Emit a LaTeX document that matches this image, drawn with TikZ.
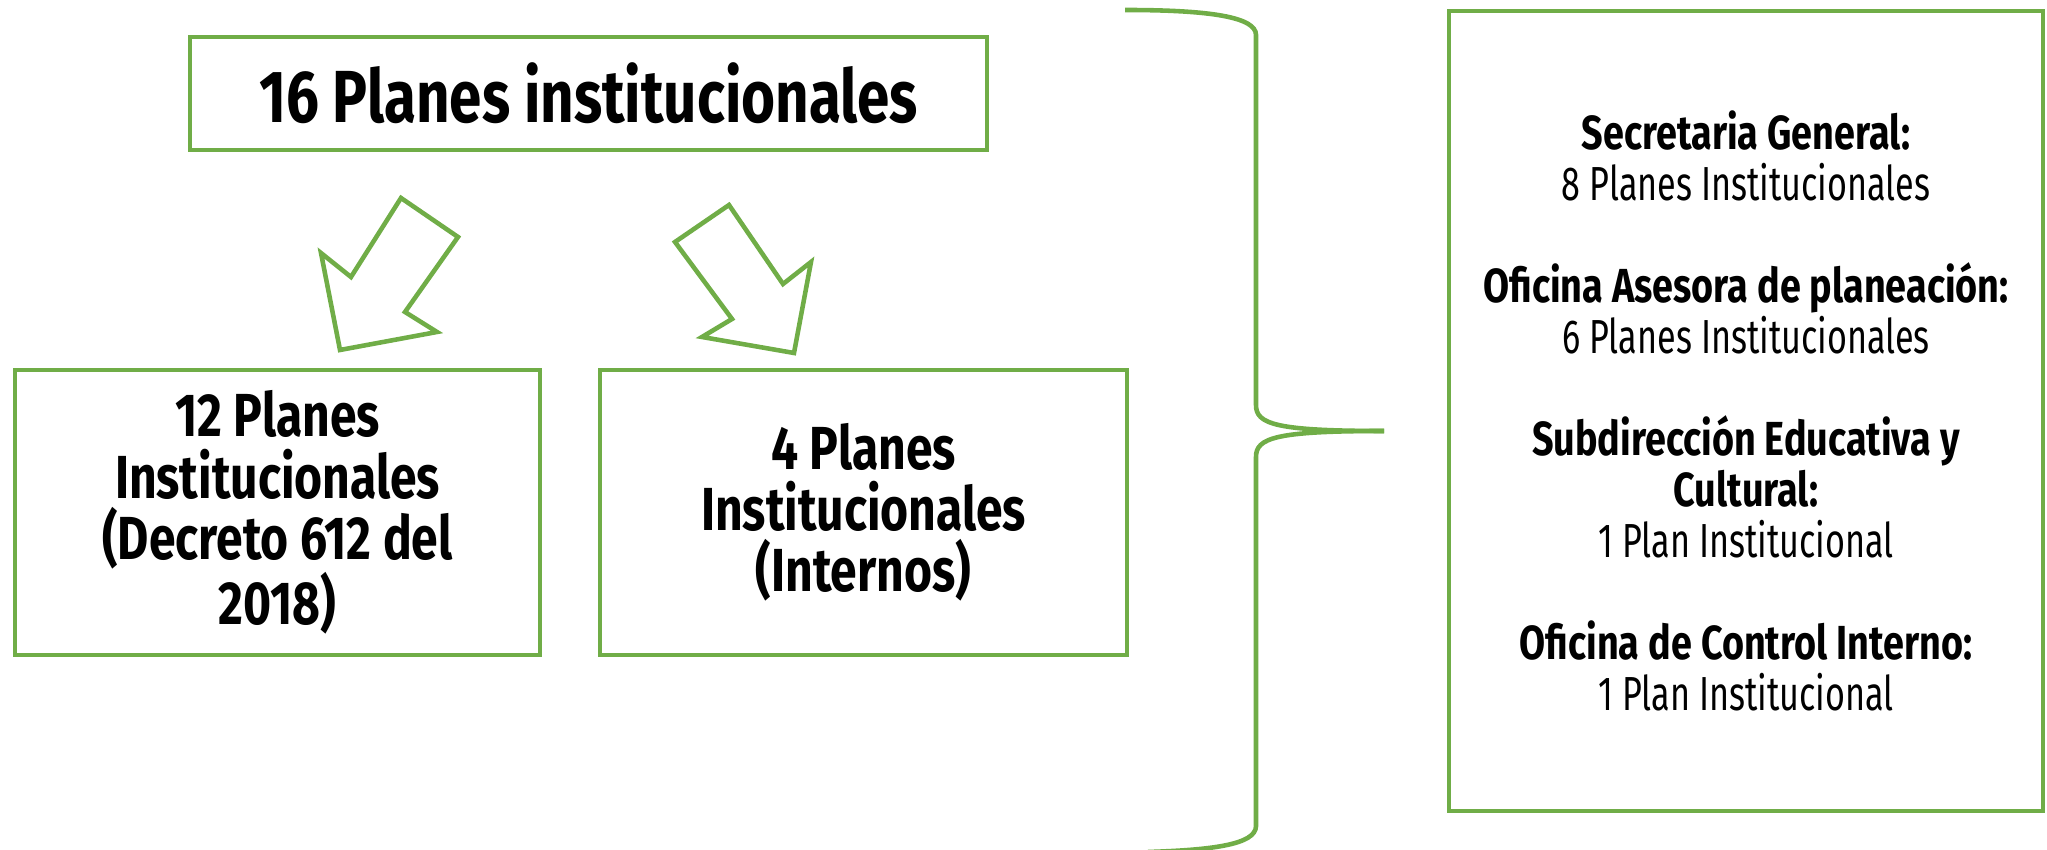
\documentclass[tikz,border=0pt]{standalone}
\usepackage{fontspec}
\setmainfont{Fira Sans}[FakeStretch=0.715, BoldFeatures={FakeStretch=0.79}]
\definecolor{planverde}{HTML}{70AD47}
\usepackage{tikz}
\usetikzlibrary{positioning, calc}

\begin{document}
\begin{tikzpicture}[line join = miter]
\useasboundingbox (0,0) rectangle (20.47,-8.5);
\tikzset{
	planbox/.style = {draw = planverde, line width = 1.3pt, inner sep = 0pt, align = center},
	flecha/.style = {draw = planverde, line width = 1.3pt}
}
% total
\node[planbox, minimum width = 7.97cm, minimum height = 1.13cm, font = \bfseries\fontsize{21}{22}\selectfont] (total) at (5.885,-0.935) {16 Planes institucionales};

% arrows
\draw[flecha] (4.01,-1.98) -- (4.58,-2.37) -- (4.05,-3.12) -- (4.37,-3.32) -- (3.40,-3.50) -- (3.21,-2.53) -- (3.51,-2.77) -- cycle;
\draw[flecha] (7.29,-2.05) -- (6.75,-2.42) -- (7.32,-3.19) -- (7.02,-3.37) -- (7.94,-3.53) -- (8.11,-2.62) -- (7.83,-2.84) -- cycle;

% 12 / 4
\node[planbox, minimum width = 5.25cm, minimum height = 2.85cm, font = \bfseries\fontsize{17.3}{17.4}\selectfont] (decreto) at (2.775,-5.125) {12 Planes\\Institucionales\\(Decreto 612 del\\2018)};
\node[planbox, minimum width = 5.27cm, minimum height = 2.85cm, font = \bfseries\fontsize{17.3}{17.4}\selectfont] (internos) at (8.635,-5.125) {4 Planes\\Institucionales\\(Internos)};

% brace
\coordinate (punta) at (13.84,-4.31);
\draw[flecha] (11.25,-0.10) .. controls (12.1,-0.10) and (12.56,-0.17) .. (12.56,-0.35) -- (12.56,-4.05) .. controls (12.56,-4.24) and (12.75,-4.31) .. (punta);
\draw[flecha] (punta) .. controls (12.75,-4.31) and (12.56,-4.38) .. (12.56,-4.57) -- (12.56,-8.26) .. controls (12.56,-8.45) and (12.1,-8.5) .. (11.48,-8.52);

% dependencias
\node[planbox, minimum width = 5.94cm, minimum height = 8.0cm, font = \fontsize{13.6}{14.5}\selectfont] (dependencias) at (17.46,-4.11) {\textbf{Secretaria General:}\\8 Planes Institucionales\\[14.5pt]
	\textbf{Oficina Asesora de planeación:}\\6 Planes Institucionales\\[14.5pt]
	\textbf{Subdirección Educativa y}\\\textbf{Cultural:}\\1 Plan Institucional\\[14.5pt]
	\textbf{Oficina de Control Interno:}\\1 Plan Institucional};
\end{tikzpicture}
\end{document}
